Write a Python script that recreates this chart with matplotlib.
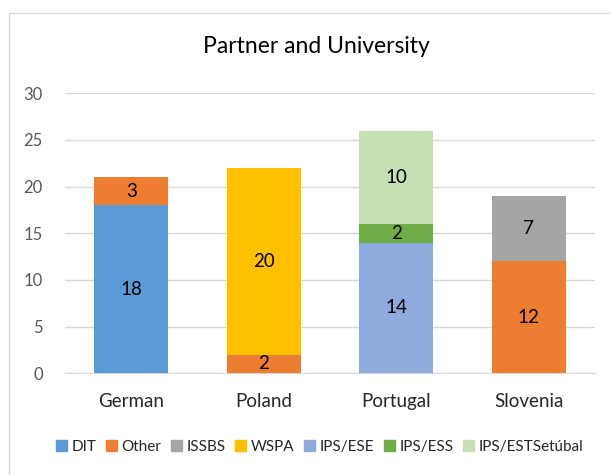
import matplotlib
matplotlib.use("Agg")
import matplotlib.pyplot as plt
import numpy as np

# categories and stacked series (segment order = stacking order)
countries = ["German", "Poland", "Portugal", "Slovenia"]
series = ["DIT", "Other", "ISSBS", "WSPA", "IPS/ESE", "IPS/ESS", "IPS/ESTSetúbal"]
dit = [18, 0, 0, 0]
other = [3, 2, 0, 12]
issbs = [0, 0, 0, 7]
wspa = [0, 20, 0, 0]
ips_ese = [0, 0, 14, 0]
ips_ess = [0, 0, 2, 0]
ips_est = [0, 0, 10, 0]

colors = {
    "DIT": "#5B9BD5",
    "Other": "#ED7D31",
    "ISSBS": "#A5A5A5",
    "WSPA": "#FFC000",
    "IPS/ESE": "#8FAADC",
    "IPS/ESS": "#70AD47",
    "IPS/ESTSetúbal": "#C5E0B4",
}

# per country stacking order as in the chart
stacks = {
    "German": [("DIT", dit), ("Other", other)],
    "Poland": [("Other", other), ("WSPA", wspa)],
    "Portugal": [("IPS/ESE", ips_ese), ("IPS/ESS", ips_ess), ("IPS/ESTSetúbal", ips_est)],
    "Slovenia": [("Other", other), ("ISSBS", issbs)],
}

plt.rcParams["font.family"] = ["Lato", "DejaVu Sans"]

fig = plt.figure(figsize=(6.1, 4.75), dpi=100)
ax = fig.add_axes([0.1066, 0.2141, 0.8689, 0.5895])

x = np.arange(len(countries))
width = 0.56
for i, c in enumerate(countries):
    bottom = 0
    for name, vals in stacks[c]:
        v = vals[i]
        ax.bar(x[i], v, width, bottom=bottom, color=colors[name], zorder=3)
        ax.text(x[i], bottom + v / 2, str(v), ha="center", va="center",
                fontsize=13.5, color="#000000", zorder=4)
        bottom += v

ax.set_xlim(-0.5, len(countries) - 0.5)
ax.set_ylim(0, 30)
ax.set_yticks(range(0, 31, 5))
ax.set_xticks(x)
ax.set_xticklabels(countries)
ax.tick_params(axis="y", length=0, pad=16, labelsize=12, labelcolor="#595959")
ax.tick_params(axis="x", length=0, pad=14, labelsize=13.5, labelcolor="#262626")
ax.grid(axis="y", color="#D9D9D9", linewidth=1, zorder=0)
for s in ["top", "right", "left"]:
    ax.spines[s].set_visible(False)
ax.spines["bottom"].set_color("#D9D9D9")

fig.text(0.518, 0.903, "Partner and University", ha="center", va="center",
         fontsize=16.5, color="#000000")

handles = [plt.Rectangle((0, 0), 1, 1, color=colors[s]) for s in series]
fig.legend(handles, series, loc="center", bbox_to_anchor=(0.524, 0.059), ncol=7,
           frameon=False, fontsize=11, handlelength=0.7, handleheight=0.7,
           handletextpad=0.3, columnspacing=0.65, labelcolor="#262626")

# chart area border
fig.add_artist(plt.Rectangle((9 / 610, -0.1), 1.2, 1 - 13 / 475 + 0.1,
                             transform=fig.transFigure, fill=False,
                             edgecolor="#D9D9D9", linewidth=1))

fig.savefig("out.png", dpi=100)
